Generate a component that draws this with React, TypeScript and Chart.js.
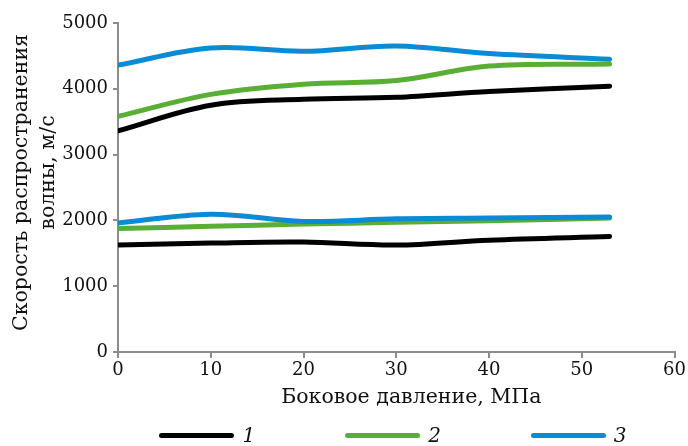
import React, { useEffect, useRef } from "react";
import { Chart, registerables } from "chart.js";

Chart.register(...registerables);

const pressure = [0, 10, 20, 30, 40, 53];
const upper1 = [3360, 3750, 3840, 3870, 3960, 4040];
const upper2 = [3580, 3915, 4070, 4125, 4345, 4375];
const upper3 = [4360, 4620, 4570, 4650, 4535, 4450];
const lower1 = [1625, 1655, 1670, 1625, 1700, 1755];
const lower2 = [1875, 1910, 1945, 1970, 1995, 2035];
const lower3 = [1960, 2095, 1985, 2025, 2035, 2050];

const legendLabels = ["1", "2", "3"];
const seriesColors = ["#000000", "#59ae35", "#0b8bd3"];
const xTitle = "Боковое давление, МПа";
const yTitle = ["Скорость распространения", "волны, м/с"];

const FONT = "'DejaVu Serif', serif";
const AXIS = "#8c8c8c";

const toPoints = (ys: number[]) => pressure.map((x, i) => ({ x, y: ys[i] }));

const axisTitlesPlugin = {
  id: "axisTitles",
  afterDraw(chart: any) {
    const { ctx, chartArea } = chart;
    const cx = (chartArea.left + chartArea.right) / 2;
    const cy = (chartArea.top + chartArea.bottom) / 2;
    ctx.save();
    ctx.fillStyle = "#111";
    ctx.font = `20.5px ${FONT}`;
    ctx.textAlign = "center";
    ctx.textBaseline = "middle";
    // x title
    ctx.fillText(xTitle, cx + 15, chartArea.bottom + 46);
    // y title (two rotated lines)
    ctx.translate(22, cy - 5);
    ctx.rotate(-Math.PI / 2);
    ctx.fillText(yTitle[0], 0, 0);
    ctx.fillText(yTitle[1], 10, 27);
    ctx.restore();
  },
};

export default function App() {
  const ref = useRef<HTMLCanvasElement | null>(null);

  useEffect(() => {
    if (!ref.current) return;
    const mk = (data: number[], color: string) => ({
      data: toPoints(data),
      borderColor: color,
      backgroundColor: color,
      borderWidth: 5,
      pointRadius: 0,
      tension: 0.35,
      borderCapStyle: "round" as const,
      fill: false,
    });
    const chart = new Chart(ref.current, {
      type: "line",
      data: {
        datasets: [
          mk(upper1, seriesColors[0]),
          mk(lower1, seriesColors[0]),
          mk(upper3, seriesColors[2]),
          mk(lower3, seriesColors[2]),
          mk(upper2, seriesColors[1]),
          mk(lower2, seriesColors[1]),
        ],
      },
      plugins: [axisTitlesPlugin],
      options: {
        responsive: false,
        animation: false,
        layout: { padding: { top: 23, right: 12, bottom: 0, left: 0 } },
        plugins: { legend: { display: false }, tooltip: { enabled: false } },
        scales: {
          x: {
            type: "linear",
            min: 0,
            max: 60,
            afterFit: (s: any) => {
              s.height = 94;
            },
            ticks: {
              stepSize: 10,
              color: "#111",
              padding: 2,
              maxRotation: 0,
              font: { family: FONT, size: 18 },
              callback: (v: any) => String(v),
            },
            grid: {
              drawOnChartArea: false,
              color: AXIS,
              lineWidth: 2,
              tickLength: 6,
            },
            border: { color: AXIS, width: 2 },
          },
          y: {
            min: 0,
            max: 5000,
            afterFit: (s: any) => {
              s.width = 118;
            },
            ticks: {
              stepSize: 1000,
              color: "#111",
              padding: 5,
              font: { family: FONT, size: 18 },
              callback: (v: any) => String(v),
            },
            grid: {
              drawOnChartArea: false,
              color: AXIS,
              lineWidth: 2,
              tickLength: 5,
            },
            border: { color: AXIS, width: 2 },
          },
        },
      },
    });
    return () => chart.destroy();
  }, []);

  return (
    <div style={{ position: "absolute", left: 0, top: 0, width: 688, height: 446, background: "#fff" }}>
      <canvas ref={ref} width={688} height={446} style={{ display: "block" }} />
      <div
        style={{
          position: "absolute",
          left: 114,
          width: 558,
          top: 423,
          height: 24,
          display: "flex",
          justifyContent: "center",
          alignItems: "center",
          gap: 90,
        }}
      >
        {legendLabels.map((lbl, i) => (
          <div key={lbl} style={{ display: "flex", alignItems: "center", gap: 8 }}>
            <div style={{ width: 75, height: 5, borderRadius: 3, background: seriesColors[i] }} />
            <span style={{ fontFamily: FONT, fontStyle: "italic", fontSize: 20, color: "#111", lineHeight: "24px" }}>
              {lbl}
            </span>
          </div>
        ))}
      </div>
    </div>
  );
}
